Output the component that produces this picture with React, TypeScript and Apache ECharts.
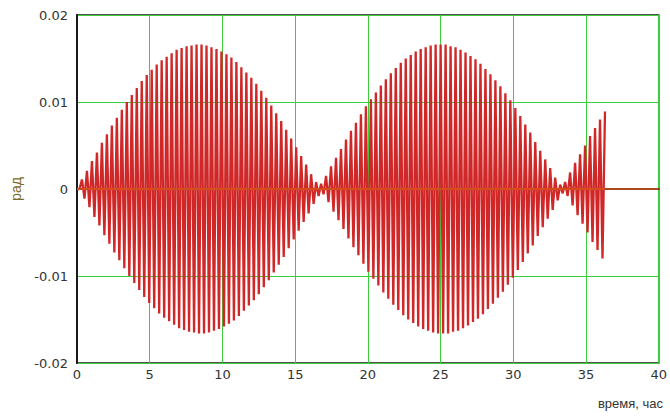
import React, { useEffect, useRef } from "react";
import * as echarts from "echarts";

// Time between successive oscillation peaks (hours)
const PEAK_STEP_HOURS = 0.3425;
// Peak amplitude (rad) of each oscillation cycle
const peakAmplitudes: number[] = [
  0.0, 0.0011, 0.0021, 0.0032, 0.0042, 0.0053, 0.0063, 0.0073, 0.0082, 0.0091,
  0.01, 0.0108, 0.0116, 0.0124, 0.0131, 0.0137, 0.0143, 0.0148, 0.0152, 0.0156,
  0.016, 0.0162, 0.0164, 0.0165, 0.0166, 0.0166, 0.0165, 0.0163, 0.0161, 0.0158,
  0.0155, 0.0151, 0.0146, 0.014, 0.0134, 0.0128, 0.0121, 0.0113, 0.0105, 0.0096,
  0.0087, 0.0078, 0.0068, 0.0058, 0.0048, 0.0038, 0.0028, 0.0017, 0.0008, 0.0006,
  0.0015, 0.0026, 0.0036, 0.0046, 0.0057, 0.0067, 0.0076, 0.0086, 0.0095, 0.0103,
  0.0111, 0.0119, 0.0126, 0.0133, 0.0139, 0.0145, 0.015, 0.0154, 0.0158, 0.0161,
  0.0163, 0.0165, 0.0166, 0.0166, 0.0166, 0.0164, 0.0163, 0.016, 0.0157, 0.0153,
  0.0149, 0.0144, 0.0138, 0.0132, 0.0125, 0.0118, 0.011, 0.0102, 0.0093, 0.0084,
  0.0074, 0.0065, 0.0054, 0.0044, 0.0034, 0.0024, 0.0013, 0.0005, 0.0008, 0.0019,
  0.003, 0.004, 0.005, 0.0061, 0.007, 0.008, 0.0089,
];
const xTicks = { min: 0, max: 40, interval: 5 };
const yTicks = { min: -0.02, max: 0.02, interval: 0.01 };
const yName = "рад";
const xName = "время, час";

export default function App() {
  const ref = useRef<HTMLDivElement>(null);
  useEffect(() => {
    if (!ref.current) return;
    const chart = echarts.init(ref.current, null, { renderer: "svg" });
    const pts: [number, number][] = [];
    peakAmplitudes.forEach((a, k) => {
      const t = k * PEAK_STEP_HOURS;
      pts.push([t, a]);
      if (k < peakAmplitudes.length - 1) pts.push([t + PEAK_STEP_HOURS / 2, -a]);
    });
    const font = "'Liberation Sans', Arial, sans-serif";
    const tickFont = "'DejaVu Sans', sans-serif";
    chart.setOption({
      animation: false,
      backgroundColor: "#ffffff",
      grid: {
        left: 77,
        right: 10,
        top: 15,
        bottom: 54,
        show: true,
        borderColor: "#1a1a1a",
        borderWidth: 1.5,
      },
      xAxis: {
        type: "value",
        min: xTicks.min,
        max: xTicks.max,
        interval: xTicks.interval,
        axisLine: { show: true, lineStyle: { color: "#1a1a1a", width: 2 } },
        axisTick: { show: false },
        axisLabel: { color: "#333", fontSize: 13, fontFamily: tickFont, margin: 5 },
        splitLine: { show: true, lineStyle: { color: "#3ccc3c", width: 1 } },
      },
      yAxis: {
        type: "value",
        min: yTicks.min,
        max: yTicks.max,
        interval: yTicks.interval,
        name: yName,
        nameLocation: "middle",
        nameRotate: 90,
        nameGap: 50,
        nameTextStyle: { color: "#7a6a2a", fontSize: 14, fontFamily: font },
        axisLine: { show: true, lineStyle: { color: "#1a1a1a", width: 2 } },
        axisTick: { show: false },
        axisLabel: { color: "#333", fontSize: 13, fontFamily: tickFont, margin: 9 },
        splitLine: { show: true, lineStyle: { color: "#3ccc3c", width: 1 } },
      },
      graphic: [
        {
          type: "text",
          right: 7,
          top: 397,
          style: { text: xName, fill: "#333", fontSize: 13, fontFamily: font },
        },
      ],
      series: [
        {
          type: "line",
          data: pts,
          showSymbol: false,
          symbol: "none",
          lineStyle: { color: "#d02828", width: 2.3 },
          markLine: {
            silent: true,
            symbol: "none",
            label: { show: false },
            lineStyle: { color: "#dd5a1a", width: 1.5, type: "solid" },
            data: [{ yAxis: 0 }],
          },
        },
      ],
    });
    return () => chart.dispose();
  }, []);
  return (
    <div
      ref={ref}
      style={{ position: "fixed", left: 0, top: 0, width: 670, height: 417 }}
    />
  );
}
